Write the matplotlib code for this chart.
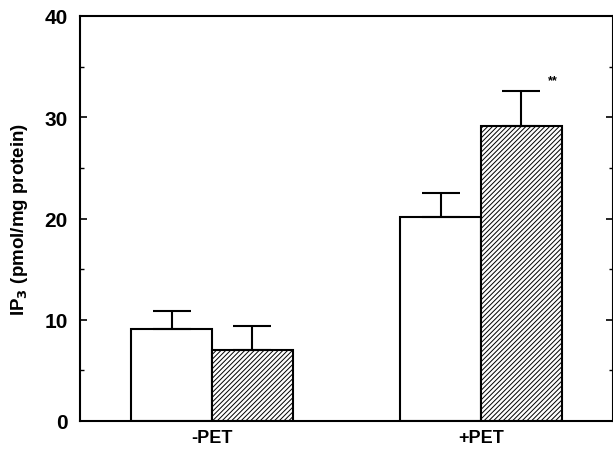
import matplotlib
matplotlib.use("Agg")
import matplotlib.pyplot as plt
import numpy as np
from matplotlib.ticker import MultipleLocator

plt.rcParams['font.family'] = ['Liberation Sans', 'DejaVu Sans']
plt.rcParams['hatch.linewidth'] = 0.7

groups = ['-PET', '+PET']
control = [9.1, 20.1]
control_err = [1.8, 2.4]
treated = [7.0, 29.1]
treated_err = [2.4, 3.5]
sig_labels = ['', '**']

fig = plt.figure(figsize=(6.13, 4.56), dpi=100)
ax = fig.add_axes([80/613, 1-422/456, 533/613, 405/456])

x = np.arange(len(groups))
w = 0.30
ax.bar(x - w/2, control, w, color='white', edgecolor='black', linewidth=1.5, zorder=2)
ax.bar(x + w/2, treated, w, color='white', edgecolor='black', linewidth=1.5,
       hatch='///////', zorder=2)
ax.errorbar(x - w/2, control, yerr=[np.zeros(2), control_err], fmt='none',
            ecolor='black', elinewidth=1.5, capsize=14, capthick=1.5, zorder=3)
ax.errorbar(x + w/2, treated, yerr=[np.zeros(2), treated_err], fmt='none',
            ecolor='black', elinewidth=1.5, capsize=14, capthick=1.5, zorder=3)
for xi, v, e, s in zip(x, treated, treated_err, sig_labels):
    if s:
        ax.text(xi + w/2 + 0.115, v + e + 0.5, s, ha='center', va='bottom',
                fontsize=9, fontweight='bold')

ax.set_xlim(-0.49, 1.49)
ax.set_ylim(0, 40)
ax.set_xticks(x)
ax.set_xticklabels(groups, fontsize=13, fontweight='bold')
ax.tick_params(axis='x', length=0, pad=6)
ax.yaxis.set_major_locator(MultipleLocator(10))
ax.yaxis.set_minor_locator(MultipleLocator(5))
ax.tick_params(axis='y', which='major', direction='in', length=5, width=1.2,
               right=True, labelsize=15, pad=9)
ax.tick_params(axis='y', which='minor', direction='in', length=3, width=1.0, right=True)
for lab in ax.get_yticklabels():
    lab.set_fontweight('bold')
for sp in ax.spines.values():
    sp.set_linewidth(1.5)

ax.set_ylabel(r'IP$_\mathbf{3}$ (pmol/mg protein)', fontsize=13.5, fontweight='bold', labelpad=10)

fig.savefig('out.png', dpi=100)
